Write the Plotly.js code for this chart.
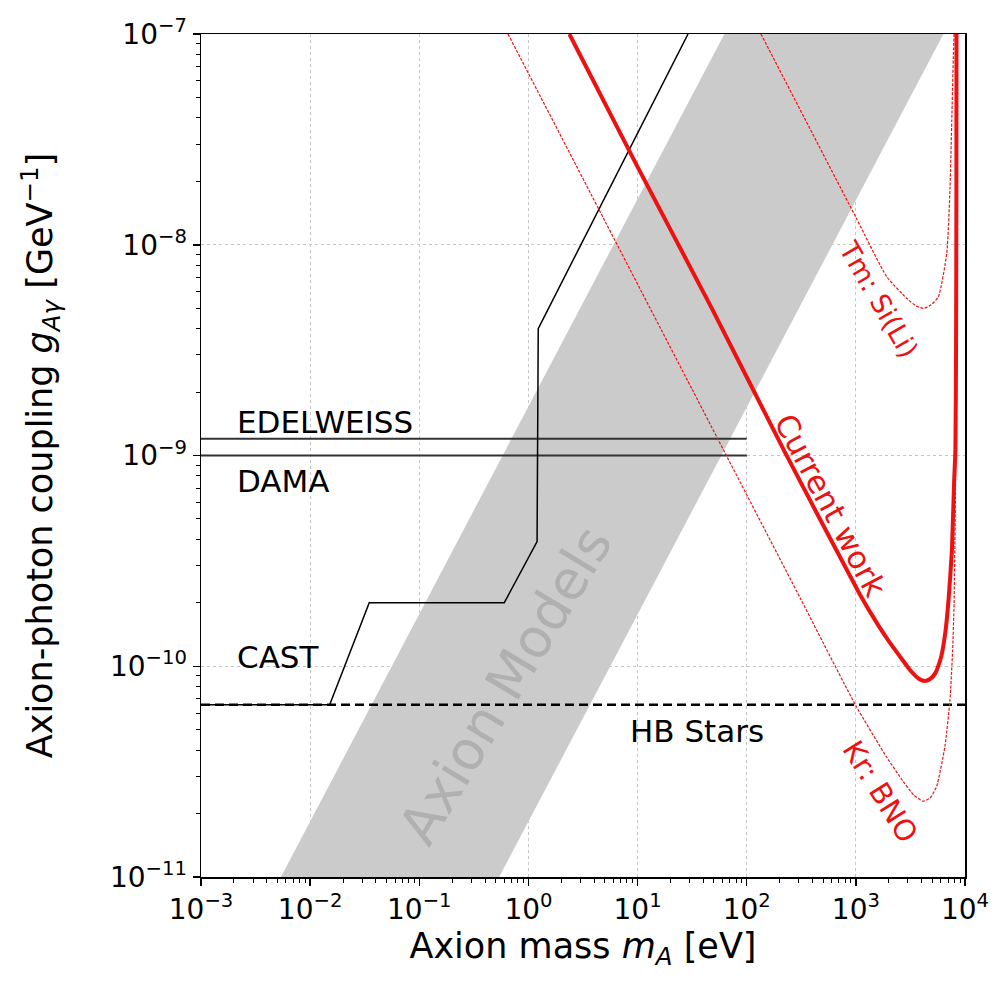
<!DOCTYPE html>
<html>
<head>
<meta charset="utf-8">
<script src="https://cdn.plot.ly/plotly-3.0.1.min.js"></script>
<style>html,body{margin:0;padding:0;background:#fff;}#chart{width:1007px;height:986px;}</style>
</head>
<body>
<div id="chart"></div>
<script>
// Axion models band (corners)
const bandMass = [0.0054, 0.54, 6350, 62.4];
const bandCoupling = [1e-11, 1e-11, 1e-7, 1e-7];

// CAST limit
const castMass = [0.001, 0.0151, 0.0348, 0.60, 1.2, 1.23, 29];
const castCoupling = [6.56e-11, 6.56e-11, 2.0e-10, 2.0e-10, 3.9e-10, 4.0e-9, 1e-7];

// EDELWEISS and DAMA
const edelMass = [0.001, 100];
const edelCoupling = [1.2e-9, 1.2e-9];
const damaMass = [0.001, 100];
const damaCoupling = [1.0e-9, 1.0e-9];

// HB stars
const hbMass = [0.001, 10000];
const hbCoupling = [6.56e-11, 6.56e-11];

// Current work
const cwMass = [2.37, 10, 48.3, 217, 1089, 1585, 1995, 2512, 3162, 3802, 4266, 4786, 5370, 6026, 6607, 7079, 7586, 7943, 8166, 8279, 8337, 8356];
const cwCoupling = [1.0e-7, 2.34e-8, 4.95e-9, 1.07e-9, 2.19e-10, 1.58e-10, 1.32e-10, 1.12e-10, 9.55e-11, 8.7e-11, 8.5e-11, 8.7e-11, 9.3e-11, 1.10e-10, 1.45e-10, 2.09e-10, 3.55e-10, 7.4e-10, 1.07e-9, 3.16e-9, 1.58e-8, 1.0e-7];

// Kr: BNO
const krMass = [0.65, 31.6, 316, 1000, 1905, 2716, 3388, 4130, 4786, 5495, 6546, 7278, 7709, 7943, 8166, 8279, 8356];
const krCoupling = [1e-7, 2.06e-9, 2.06e-10, 6.5e-11, 3.72e-11, 2.84e-11, 2.45e-11, 2.29e-11, 2.37e-11, 2.69e-11, 4.17e-11, 6.9e-11, 1.2e-10, 2.0e-10, 6.3e-10, 3.16e-9, 1e-7];

// Tm: Si(Li)
const tmMass = [135, 1000, 1919, 2924, 3548, 4169, 4898, 5715, 6808, 7295, 7568, 7834, 7943];
const tmCoupling = [1e-7, 1.35e-8, 7.05e-9, 5.57e-9, 5.13e-9, 4.99e-9, 5.19e-9, 5.68e-9, 9.12e-9, 1.88e-8, 3.89e-8, 8.13e-8, 1e-7];

// Tick labels
const xTickVals = [1e-3, 1e-2, 1e-1, 1e0, 1e1, 1e2, 1e3, 1e4];
const xTickText = ['10<sup>−3</sup>','10<sup>−2</sup>','10<sup>−1</sup>','10<sup>0</sup>','10<sup>1</sup>','10<sup>2</sup>','10<sup>3</sup>','10<sup>4</sup>'];
const yTickVals = [1e-11, 1e-10, 1e-9, 1e-8, 1e-7];
const yTickText = ['10<sup>−11</sup>','10<sup>−10</sup>','10<sup>−9</sup>','10<sup>−8</sup>','10<sup>−7</sup>'];

function minorTicks(lo, hi) {
  const out = [];
  for (let e = lo; e < hi; e++) {
    for (let k = 2; k <= 9; k++) out.push(k * Math.pow(10, e));
  }
  return out;
}

const FONT = 'DejaVu Sans, sans-serif';
const RED = '#ee1111';

const traces = [
  {x: bandMass, y: bandCoupling, type: 'scatter', mode: 'lines', fill: 'toself',
   fillcolor: '#cbcbcb', line: {width: 0, color: 'rgba(0,0,0,0)'}, hoverinfo: 'skip'},
  {x: edelMass, y: edelCoupling, type: 'scatter', mode: 'lines', line: {color: '#333333', width: 2}},
  {x: damaMass, y: damaCoupling, type: 'scatter', mode: 'lines', line: {color: '#333333', width: 2}},
  {x: castMass, y: castCoupling, type: 'scatter', mode: 'lines', line: {color: '#000000', width: 1.5}},
  {x: hbMass, y: hbCoupling, type: 'scatter', mode: 'lines', line: {color: '#000000', width: 2.5, dash: '9px,5px'}},
  {x: krMass, y: krCoupling, type: 'scatter', mode: 'lines', line: {color: RED, width: 1.2, dash: '3px,1.5px', shape: 'spline', smoothing: 0.5}},
  {x: tmMass, y: tmCoupling, type: 'scatter', mode: 'lines', line: {color: RED, width: 1.2, dash: '3px,1.5px', shape: 'spline', smoothing: 0.5}},
  {x: cwMass, y: cwCoupling, type: 'scatter', mode: 'lines', line: {color: RED, width: 4, shape: 'spline', smoothing: 0.5}}
];

const axisCommon = {
  type: 'log', showline: true, mirror: true, linecolor: '#000', linewidth: 1.5,
  ticks: 'outside', ticklen: 7, tickwidth: 1.5, tickcolor: '#000',
  showgrid: true, gridcolor: '#c4c4c4', griddash: 'dot', gridwidth: 1,
  zeroline: false, tickmode: 'array',
  tickfont: {family: FONT, size: 28, color: '#000'}
};

const layout = {
  width: 1007, height: 986,
  margin: {l: 201, r: 42, t: 34, b: 109},
  paper_bgcolor: '#fff', plot_bgcolor: '#fff',
  showlegend: false,
  xaxis: Object.assign({}, axisCommon, {
    range: [-3, 4], tickvals: xTickVals, ticktext: xTickText,
    minor: {tickvals: minorTicks(-3, 4), ticks: 'outside', ticklen: 4, tickwidth: 1, tickcolor: '#000', showgrid: false},
    title: {text: 'Axion mass <i>m</i><sub><i>A</i></sub> [eV]', font: {family: FONT, size: 35, color: '#000'}, standoff: 0}
  }),
  yaxis: Object.assign({}, axisCommon, {
    range: [-11, -7], tickvals: yTickVals, ticktext: yTickText,
    minor: {tickvals: minorTicks(-11, -7), ticks: 'outside', ticklen: 4, tickwidth: 1, tickcolor: '#000', showgrid: false},
    title: {text: 'Axion-photon coupling <i>g</i><sub><i>Aγ</i></sub> [GeV<sup>−1</sup>]', font: {family: FONT, size: 35, color: '#000'}, standoff: 46}
  }),
  annotations: [
    {x: -2.69, y: -8.841, xref: 'x', yref: 'y', text: 'EDELWEISS', showarrow: false, xanchor: 'left', yanchor: 'middle', font: {family: FONT, size: 31, color: '#000'}},
    {x: -2.69, y: -9.121, xref: 'x', yref: 'y', text: 'DAMA', showarrow: false, xanchor: 'left', yanchor: 'middle', font: {family: FONT, size: 31, color: '#000'}},
    {x: -2.69, y: -9.956, xref: 'x', yref: 'y', text: 'CAST', showarrow: false, xanchor: 'left', yanchor: 'middle', font: {family: FONT, size: 31, color: '#000'}},
    {x: 0.915, y: -10.307, xref: 'x', yref: 'y', text: 'HB Stars', showarrow: false, xanchor: 'left', yanchor: 'middle', font: {family: FONT, size: 31, color: '#000'}},
    {x: 2.767, y: -9.235, xref: 'x', yref: 'y', text: 'Current work', showarrow: false, textangle: 62, font: {family: FONT, size: 31, color: RED}},
    {x: 3.207, y: -8.262, xref: 'x', yref: 'y', text: 'Tm: Si(Li)', showarrow: false, textangle: 60, font: {family: FONT, size: 27, color: RED}},
    {x: 3.225, y: -10.597, xref: 'x', yref: 'y', text: 'Kr: BNO', showarrow: false, textangle: 58, font: {family: FONT, size: 29, color: RED}},
    {x: -0.214, y: -10.089, xref: 'x', yref: 'y', text: 'Axion Models', showarrow: false, textangle: -59, font: {family: FONT, size: 54, color: '#b0b0b0'}}
  ]
};

Plotly.newPlot('chart', traces, layout, {displayModeBar: false, staticPlot: true});
</script>
</body>
</html>
